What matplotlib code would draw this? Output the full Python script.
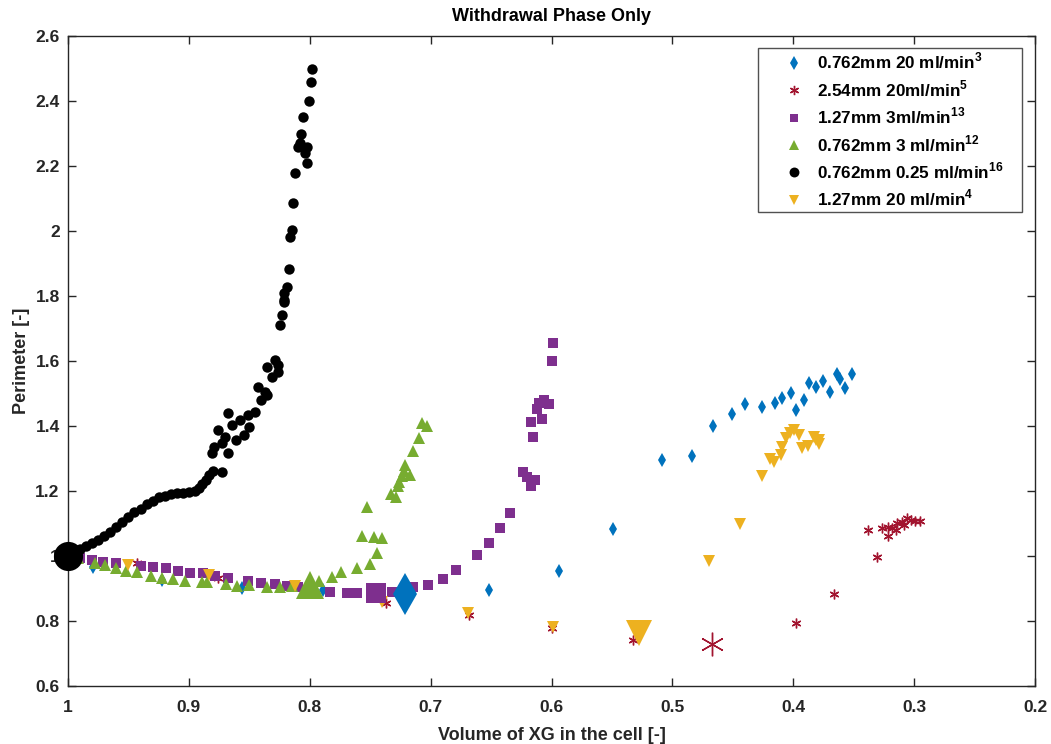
import matplotlib
matplotlib.use('Agg')
import matplotlib.pyplot as plt

plt.rcParams['font.family'] = ['Liberation Sans', 'DejaVu Sans']
plt.rcParams['font.weight'] = 'bold'
plt.rcParams['mathtext.fontset'] = 'custom'
plt.rcParams['mathtext.rm'] = 'Liberation Sans:bold'
plt.rcParams['mathtext.bf'] = 'Liberation Sans:bold'

# 0.762mm 20 ml/min (blue diamonds)
blue_x = [0.979, 0.922, 0.856, 0.789, 0.652, 0.594, 0.549, 0.509, 0.484, 0.466, 0.451,
          0.440, 0.426, 0.415, 0.409, 0.402, 0.398, 0.391, 0.387, 0.381, 0.375, 0.370,
          0.364, 0.361, 0.357, 0.351]
blue_y = [0.966, 0.926, 0.900, 0.895, 0.895, 0.954, 1.083, 1.295, 1.308, 1.400, 1.437,
          1.468, 1.458, 1.471, 1.486, 1.500, 1.449, 1.480, 1.532, 1.520, 1.538, 1.505,
          1.560, 1.545, 1.517, 1.560]

# 2.54mm 20ml/min (red asterisks)
red_x = [0.943, 0.876, 0.737, 0.668, 0.600, 0.533, 0.398, 0.366, 0.331, 0.338, 0.327,
         0.322, 0.322, 0.318, 0.315, 0.314, 0.310, 0.308, 0.306, 0.303, 0.299, 0.295]
red_y = [0.978, 0.932, 0.855, 0.818, 0.778, 0.742, 0.794, 0.883, 0.997, 1.080, 1.086,
         1.062, 1.089, 1.086, 1.080, 1.102, 1.105, 1.095, 1.117, 1.111, 1.108, 1.108]

# 1.27mm 3ml/min (purple squares)
purple_x = [0.990, 0.980, 0.971, 0.960, 0.940, 0.930, 0.919, 0.909, 0.899, 0.888, 0.878,
            0.868, 0.851, 0.840, 0.829, 0.819, 0.810, 0.783, 0.769, 0.761, 0.732, 0.715,
            0.702, 0.690, 0.679, 0.662, 0.652, 0.643, 0.634, 0.624, 0.620, 0.614, 0.617,
            0.615, 0.617, 0.608, 0.612, 0.610, 0.606, 0.602, 0.600, 0.599]
purple_y = [0.994, 0.988, 0.982, 0.978, 0.969, 0.966, 0.963, 0.954, 0.948, 0.948, 0.938,
            0.932, 0.923, 0.917, 0.914, 0.908, 0.905, 0.889, 0.886, 0.886, 0.889, 0.905,
            0.911, 0.929, 0.957, 1.003, 1.040, 1.086, 1.132, 1.258, 1.243, 1.234, 1.215,
            1.366, 1.412, 1.422, 1.452, 1.471, 1.480, 1.468, 1.600, 1.655]

# 0.762mm 3 ml/min (green triangles)
green_x = [0.992, 0.978, 0.969, 0.960, 0.952, 0.943, 0.931, 0.922, 0.913, 0.903, 0.889,
           0.885, 0.869, 0.860, 0.850, 0.835, 0.825, 0.815, 0.792, 0.782, 0.774, 0.761,
           0.750, 0.744, 0.757, 0.747, 0.740, 0.753, 0.733, 0.729, 0.727, 0.726, 0.724,
           0.717, 0.722, 0.721, 0.715, 0.710, 0.707, 0.703]
green_y = [0.994, 0.978, 0.972, 0.963, 0.954, 0.951, 0.938, 0.932, 0.929, 0.923, 0.920,
           0.920, 0.914, 0.908, 0.911, 0.905, 0.905, 0.908, 0.923, 0.935, 0.951, 0.963,
           0.975, 1.009, 1.062, 1.058, 1.055, 1.151, 1.190, 1.182, 1.215, 1.228, 1.246,
           1.249, 1.262, 1.280, 1.323, 1.363, 1.409, 1.400]

# 0.762mm 0.25 ml/min (black circles)
black_x = [0.995, 0.990, 0.985, 0.980, 0.975, 0.970, 0.965, 0.960, 0.955, 0.950, 0.945,
           0.940, 0.935, 0.930, 0.925, 0.920, 0.915, 0.910, 0.905, 0.900, 0.895, 0.892,
           0.889, 0.886, 0.883, 0.880, 0.873, 0.881, 0.879, 0.870, 0.868, 0.868, 0.858,
           0.854, 0.845, 0.835, 0.843, 0.826, 0.835, 0.829, 0.876, 0.864, 0.861, 0.873,
           0.851, 0.850, 0.840, 0.837, 0.831, 0.826, 0.825, 0.823, 0.821, 0.821, 0.821,
           0.819, 0.817, 0.816, 0.815, 0.814, 0.812, 0.802, 0.802, 0.810, 0.807, 0.806,
           0.801, 0.799, 0.798, 0.804, 0.808]
black_y = [1.010, 1.020, 1.030, 1.040, 1.050, 1.060, 1.075, 1.090, 1.105, 1.120, 1.135,
           1.145, 1.160, 1.170, 1.180, 1.185, 1.190, 1.193, 1.195, 1.197, 1.200, 1.210,
           1.220, 1.235, 1.250, 1.260, 1.258, 1.317, 1.335, 1.366, 1.317, 1.440, 1.418,
           1.372, 1.443, 1.495, 1.520, 1.566, 1.580, 1.603, 1.388, 1.403, 1.357, 1.348,
           1.434, 1.397, 1.480, 1.505, 1.551, 1.588, 1.710, 1.740, 1.788, 1.810, 1.780,
           1.828, 1.883, 1.982, 2.003, 2.086, 2.178, 2.209, 2.258, 2.258, 2.300, 2.350,
           2.400, 2.458, 2.500, 2.240, 2.270]

# 1.27mm 20 ml/min (yellow down triangles)
yellow_x = [0.950, 0.883, 0.812, 0.740, 0.669, 0.599, 0.470, 0.444, 0.426, 0.419, 0.416,
            0.410, 0.409, 0.406, 0.403, 0.399, 0.395, 0.393, 0.388, 0.383, 0.381, 0.379,
            0.379]
yellow_y = [0.972, 0.942, 0.908, 0.858, 0.825, 0.782, 0.985, 1.098, 1.246, 1.298, 1.289,
            1.311, 1.336, 1.363, 1.378, 1.388, 1.372, 1.332, 1.338, 1.366, 1.357, 1.345,
            1.357]

# highlighted (large) points of each series
big_blue = (0.721, 0.883)
big_red = (0.467, 0.729)
big_purple = (0.745, 0.886)
big_green = (0.800, 0.910)
big_black = (1.0, 1.0)
big_yellow = (0.528, 0.763)

labels = [r'0.762mm 20 ml/min$^{3}$', r'2.54mm 20ml/min$^{5}$', r'1.27mm 3ml/min$^{13}$',
          r'0.762mm 3 ml/min$^{12}$', r'0.762mm 0.25 ml/min$^{16}$', r'1.27mm 20 ml/min$^{4}$']

c_blue = '#0072BD'
c_red = '#A2142F'
c_purple = '#7E2F8E'
c_green = '#77AC30'
c_black = 'black'
c_yellow = '#EDB120'
star = (6, 2, 0)

fig = plt.figure(figsize=(10.51, 7.44), dpi=100)
ax = fig.add_axes([0.0647, 0.078, 0.9201, 0.8736])

ax.plot(blue_x, blue_y, 'd', color=c_blue, ms=7.5, mew=0, label=labels[0])
ax.plot(red_x, red_y, ls='none', marker=star, color=c_red, ms=7, mew=1, label=labels[1])
ax.plot(purple_x, purple_y, 's', color=c_purple, ms=6.5, mew=0, label=labels[2])
ax.plot(green_x, green_y, '^', color=c_green, ms=8, mew=0, label=labels[3])
ax.plot(black_x, black_y, 'o', color=c_black, ms=7.5, mew=0, label=labels[4])
ax.plot(yellow_x, yellow_y, 'v', color=c_yellow, ms=8, mew=0, label=labels[5])

ax.plot(*big_blue, 'd', color=c_blue, ms=21, mew=0)
ax.plot(*big_red, ls='none', marker=star, color=c_red, ms=17, mew=1)
ax.plot(*big_purple, 's', color=c_purple, ms=14, mew=0)
ax.plot(*big_green, '^', color=c_green, ms=20, mew=0)
ax.plot(*big_black, 'o', color=c_black, ms=21, mew=0, clip_on=False, zorder=5)
ax.plot(*big_yellow, 'v', color=c_yellow, ms=19, mew=0)

ax.set_xlim(1, 0.2)
ax.set_ylim(0.6, 2.6)
xt = [1, 0.9, 0.8, 0.7, 0.6, 0.5, 0.4, 0.3, 0.2]
yt = [0.6, 0.8, 1, 1.2, 1.4, 1.6, 1.8, 2, 2.2, 2.4, 2.6]
ax.set_xticks(xt)
ax.set_xticklabels(['%g' % v for v in xt])
ax.set_yticks(yt)
ax.set_yticklabels(['%g' % v for v in yt])
ax.tick_params(direction='in', top=True, right=True, length=6, width=1,
               labelsize=12.5, colors='#262626')
ax.tick_params(axis='x', pad=10)
ax.tick_params(axis='y', pad=6)
for s in ax.spines.values():
    s.set_color('#262626')
    s.set_linewidth(1)

ax.set_xlabel('Volume of XG in the cell [-]', fontsize=13, fontweight='bold',
              color='#262626', labelpad=9)
ax.set_ylabel('Perimeter [-]', fontsize=13, fontweight='bold', color='#262626')
ax.set_title('Withdrawal Phase Only', fontsize=13, fontweight='bold', pad=11)

# trailing spaces give the wider right margin of the original legend box
leg = ax.legend([l + '    ' for l in labels], loc='upper right', bbox_to_anchor=(0.9865, 0.982),
                borderaxespad=0, fancybox=False, edgecolor='#262626', fontsize=12.3,
                handlelength=3.8, handletextpad=-0.55, borderpad=0.2, labelspacing=0.4,
                markerscale=0.95)
leg.get_frame().set_linewidth(1)

fig.savefig('out.png', dpi=100)
